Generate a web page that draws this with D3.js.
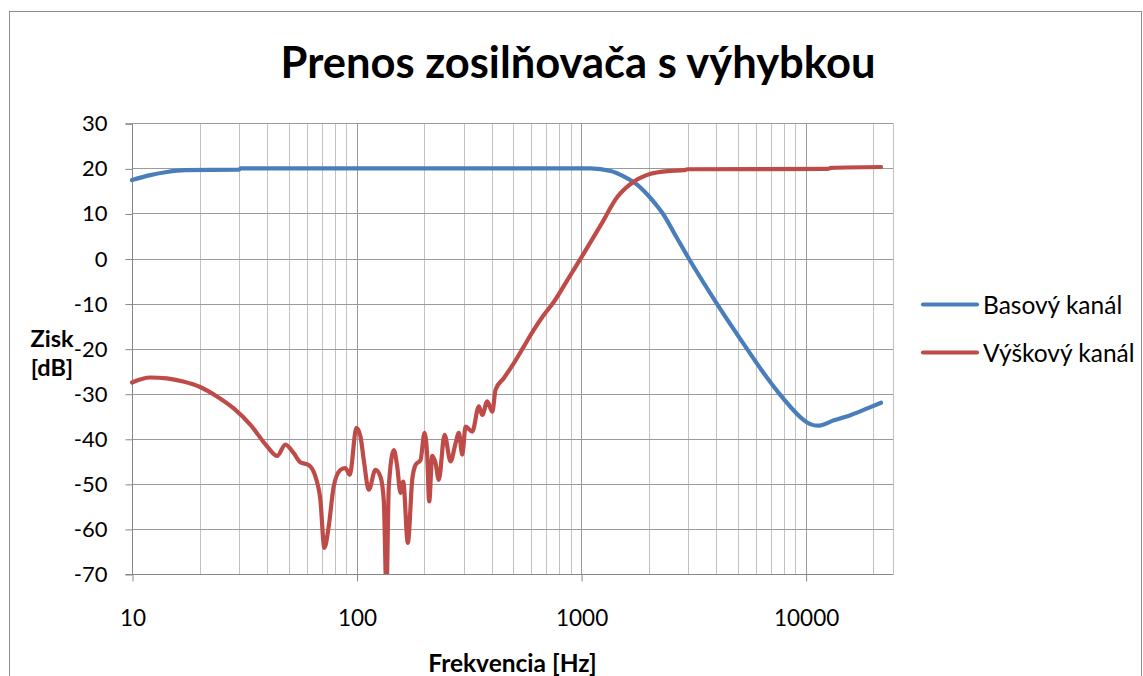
<!DOCTYPE html>
<html>
<head>
<meta charset="utf-8">
<script src="https://cdn.jsdelivr.net/npm/d3@7"></script>
<style>
  html, body { margin: 0; padding: 0; background: #fff; }
  svg { display: block; }
  text { font-family: Lato, "Open Sans", sans-serif; fill: #000; }
</style>
</head>
<body>
<svg id="chart" width="1143" height="676"></svg>
<script>
// Measured frequency response of the amplifier with crossover
const chartTitle = "Prenos zosilňovača s výhybkou";
const seriesNames = ["Basový kanál", "Výškový kanál"];
const seriesColors = ["#4a7ebb", "#be4b48"];
const xTitle = "Frekvencia [Hz]";
const yTitleLines = ["Zisk", "[dB]"];

// Bass channel (low-pass)
const bassFreq = [10, 12.05, 14.3, 17.3, 30, 30.5, 200, 1100, 1355, 1549, 1787, 1982, 2194, 2311, 2641, 3018,
  4023, 5474, 6500, 7524, 8590, 9520, 10550, 11340, 13370, 15920, 18960, 21670];
const bassGain = [17.4, 18.5, 19.2, 19.6, 19.7, 20.0, 20.0, 20.0, 19.4, 18.2, 16.3, 14.1, 11.5, 10.0, 5.0, 0.0,
  -10.0, -20.0, -25.4, -29.6, -33.0, -35.3, -36.8, -37.1, -35.9, -34.7, -33.2, -32.0];

// Treble channel (high-pass)
const trebleFreq = [10, 12.05, 14.3, 16.9, 20.1, 23.9, 28.3, 33.7, 40.0, 44.3, 48.2, 52.5, 56.2, 61.2, 65.6,
  69.0, 71.9, 75.2, 79.1, 84.8, 89.2, 93.3, 99.9, 104.1, 107.7, 113.4, 121.4, 127.8, 132.2, 135.9,
  139.2, 146.6, 151.7, 157.0, 161.4, 169.2, 177.0, 183.1, 192.8, 200.8, 206.4, 210.7, 217.3, 224.8,
  232.5, 246.6, 262.2, 276.1, 285.6, 295.7, 305.9, 327.7, 350.6, 363.1, 382.2, 402.3, 416.2, 453.4,
  502.0, 556.5, 616.6, 683.3, 757.2, 868.9, 1030, 1223, 1452, 1721, 2044, 2426, 2876, 2978, 12537,
  12970, 21670];
const trebleGain = [-27.5, -26.4, -26.6, -27.3, -28.5, -30.6, -33.2, -36.9, -41.7, -43.8, -41.3, -43.2, -45.2,
  -45.8, -48.4, -53.5, -64.2, -59.4, -50.6, -46.9, -46.5, -48.0, -37.6, -39.5, -44.7, -51.3, -46.9,
  -48.4, -53.6, -74.0, -50.6, -42.5, -46.1, -52.0, -49.5, -63.1, -49.1, -45.8, -44.7, -38.7, -43.8,
  -53.9, -43.8, -45.4, -49.1, -39.1, -45.0, -41.0, -38.7, -43.5, -37.3, -38.4, -32.8, -34.7, -31.7,
  -34.0, -29.1, -26.5, -23.2, -19.5, -15.8, -12.5, -9.6, -4.8, 1.2, 7.4, 13.7, 17.1, 18.8, 19.4,
  19.6, 19.8, 19.9, 20.1, 20.3];

const yTicks = [30, 20, 10, 0, -10, -20, -30, -40, -50, -60, -70];
const xTickValues = [10, 100, 1000, 10000];
const xTickLabels = ["10", "100", "1000", "10000"];
const xDomain = [10, 24500];
const yDomain = [-70, 30];

const svg = d3.select("#chart");
const plot = { left: 132, top: 123.3, right: 893, bottom: 574 };

const x = d3.scaleLog().domain(xDomain).range([plot.left, plot.right]);
const y = d3.scaleLinear().domain(yDomain).range([plot.bottom, plot.top]);

// Chart frame
svg.append("rect")
  .attr("x", 9.5).attr("y", 11.5).attr("width", 1132).attr("height", 700)
  .attr("fill", "#fff").attr("stroke", "#8c8c8c").attr("stroke-width", 1);

// Title
svg.append("text")
  .attr("x", 578).attr("y", 78)
  .attr("text-anchor", "middle")
  .attr("font-size", 43.5).attr("font-weight", 700)
  .text(chartTitle);

// Vertical gridlines: decades (major) and 2..9 multiples (minor)
const gridFreqs = [];
for (let dec = 10; dec <= 10000; dec *= 10) {
  for (let m = 1; m <= 9; m++) {
    const f = dec * m;
    if (f > xDomain[0] && f <= xDomain[1]) gridFreqs.push({ f, major: m === 1 });
  }
}
svg.append("g").selectAll("line").data(gridFreqs).join("line")
  .attr("x1", d => Math.round(x(d.f)) + 0.5).attr("x2", d => Math.round(x(d.f)) + 0.5)
  .attr("y1", plot.top).attr("y2", plot.bottom)
  .attr("stroke", d => d.major ? "#9a9a9a" : "#c2c2c2")
  .attr("stroke-width", 1);

// Horizontal gridlines
svg.append("g").selectAll("line").data(yTicks.filter(v => v !== yDomain[0])).join("line")
  .attr("x1", plot.left).attr("x2", plot.right)
  .attr("y1", d => Math.round(y(d)) + 0.5).attr("y2", d => Math.round(y(d)) + 0.5)
  .attr("stroke", "#9a9a9a").attr("stroke-width", 1);

// Right edge of plot area
svg.append("line")
  .attr("x1", plot.right + 0.5).attr("x2", plot.right + 0.5)
  .attr("y1", plot.top).attr("y2", plot.bottom)
  .attr("stroke", "#c2c2c2");

// Y axis
const yAxis = d3.axisLeft(y).tickValues(yTicks).tickSize(7).tickPadding(18).tickFormat(d => String(d));
const gy = svg.append("g").attr("transform", `translate(${plot.left + 0.5},0.5)`).call(yAxis);
gy.select(".domain").attr("stroke", "#868686").attr("d", `M-7,${plot.top}H0V${plot.bottom}H-7`);
gy.selectAll(".tick line").attr("stroke", "#868686");
gy.selectAll(".tick text").attr("font-size", 22).attr("font-family", "Lato, sans-serif").attr("fill", "#000");

// X axis
const xAxis = d3.axisBottom(x).tickValues(xTickValues).tickSize(7).tickPadding(29)
  .tickFormat((d, i) => xTickLabels[i]);
const gx = svg.append("g").attr("transform", `translate(0.5,${plot.bottom + 0.5})`).call(xAxis);
gx.select(".domain").attr("stroke", "#868686").attr("d", `M${plot.left},0H${plot.right}`);
gx.selectAll(".tick line").attr("stroke", "#868686");
gx.selectAll(".tick text").attr("font-size", 22.5).attr("font-family", "Lato, sans-serif").attr("fill", "#000");

// Axis titles
svg.append("text")
  .attr("x", (plot.left + plot.right) / 2).attr("y", 672)
  .attr("text-anchor", "middle").attr("font-size", 24.5).attr("font-weight", 700)
  .text(xTitle);
svg.append("g").selectAll("text").data(yTitleLines).join("text")
  .attr("x", 52).attr("y", (d, i) => 347 + i * 29)
  .attr("text-anchor", "middle").attr("font-size", 23.5).attr("font-weight", 700)
  .text(d => d);

// Data lines, clipped to the plot area
svg.append("clipPath").attr("id", "plotClip")
  .append("rect").attr("x", plot.left - 3).attr("y", plot.top - 6)
  .attr("width", plot.right - plot.left + 6).attr("height", plot.bottom - plot.top + 6);

const series = [
  { name: seriesNames[0], color: seriesColors[0], pts: bassFreq.map((f, i) => [f, bassGain[i]]) },
  { name: seriesNames[1], color: seriesColors[1], pts: trebleFreq.map((f, i) => [f, trebleGain[i]]) }
];

const line = d3.line().x(d => x(d[0])).y(d => y(d[1])).curve(d3.curveMonotoneX);
svg.append("g").attr("clip-path", "url(#plotClip)").selectAll("path").data(series).join("path")
  .attr("d", d => line(d.pts))
  .attr("fill", "none").attr("stroke", d => d.color)
  .attr("stroke-width", 4.2).attr("stroke-linejoin", "round").attr("stroke-linecap", "round");

// Legend
const legend = svg.append("g").selectAll("g").data(series).join("g")
  .attr("transform", (d, i) => `translate(923,${304.5 + i * 48})`);
legend.append("line").attr("x1", 0).attr("x2", 54).attr("y1", 0).attr("y2", 0)
  .attr("stroke", d => d.color).attr("stroke-width", 4.2).attr("stroke-linecap", "round");
legend.append("text").attr("x", 60).attr("y", 9).attr("font-size", 24.5).text(d => d.name);
</script>
</body>
</html>
